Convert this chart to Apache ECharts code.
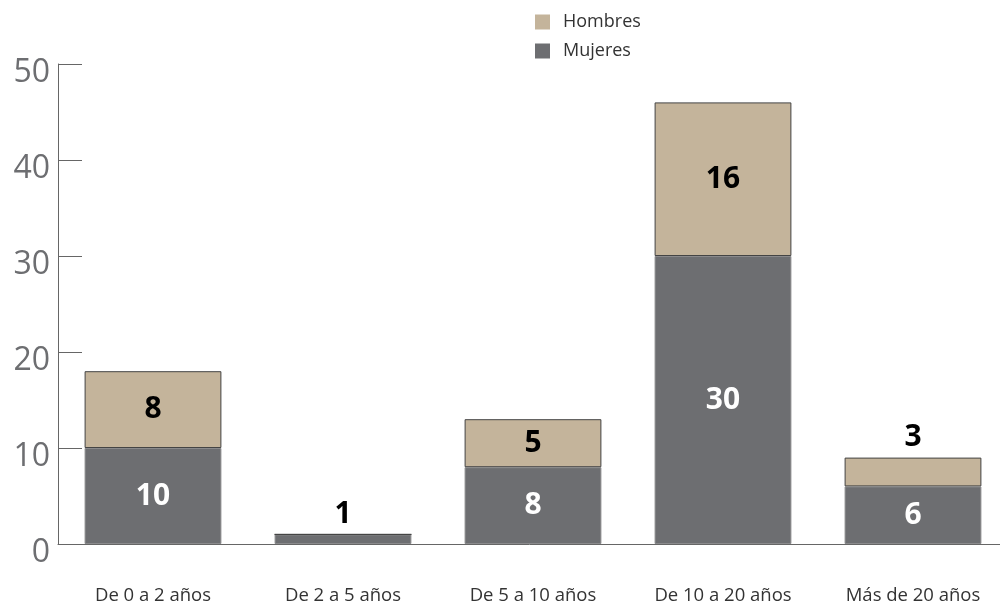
<!DOCTYPE html>
<html>
<head>
<meta charset="utf-8">
<script src="https://cdn.jsdelivr.net/npm/echarts@6/dist/echarts.min.js"></script>
<style>
html,body{margin:0;padding:0;background:#fff}
#chart{width:1000px;height:607px}
</style>
</head>
<body>
<div id="chart"></div>
<script>
var categories = ['De 0 a 2 años','De 2 a 5 años','De 5 a 10 años','De 10 a 20 años','Más de 20 años']
var mujeres = [10,1,8,30,6]
var hombres = [8,0,5,16,3]
var yTicks = [0,10,20,30,40,50]

var chart = echarts.init(document.getElementById('chart'))

// labels: small segments put the number on top of the bar
var mujeresData = mujeres.map(function(v){
    if(v < 3) return {value:v,label:{position:'top',color:'#000'}}
    return v
})
var hombresData = hombres.map(function(v){
    if(v == 0) return {value:v,label:{show:false}}
    if(v < 4) return {value:v,label:{position:'top',color:'#000'}}
    return v
})

var options = {
    animation:false,
    textStyle:{fontFamily:'Open Sans'},
    legend:{
        orient:'vertical',
        left:530,
        top:8,
        itemWidth:15,
        itemHeight:15,
        itemGap:11,
        icon:'rect',
        itemStyle:{borderWidth:0},
        data:['Hombres','Mujeres'],
        textStyle:{fontSize:18,color:'#333',fontFamily:'Open Sans',padding:[0,0,0,8]}
    },
    grid:{left:58,top:64,width:950,height:480,containLabel:false,outerBoundsMode:'none'},
    xAxis:{
        type:'category',
        data:categories,
        axisLine:{lineStyle:{color:'#666',width:1}},
        axisTick:{inside:true,length:12,lineStyle:{color:'#666'}},
        axisLabel:{fontSize:18.5,color:'#333',margin:42,fontFamily:'Open Sans'}
    },
    yAxis:{
        type:'value',
        min:yTicks[0],
        max:yTicks[yTicks.length-1],
        interval:10,
        splitLine:{show:false},
        axisLine:{show:true,lineStyle:{color:'#666',width:1}},
        axisTick:{show:true,inside:true,length:24,lineStyle:{color:'#666'}},
        axisLabel:{fontSize:32,color:'#6d6e71',margin:8,verticalAlign:'top',lineHeight:18,fontFamily:'Open Sans'}
    },
    series:[
        {
            name:'Mujeres',
            type:'bar',
            stack:'total',
            barWidth:'72%',
            data:mujeresData,
            itemStyle:{color:'#6d6e71',borderColor:'#8a8a8c',borderWidth:1},
            label:{show:true,position:'inside',color:'#fff',fontSize:30,fontWeight:'bold',fontFamily:'Open Sans'}
        },
        {
            name:'Hombres',
            type:'bar',
            stack:'total',
            data:hombresData,
            itemStyle:{color:'#c4b49b',borderColor:'#444',borderWidth:1},
            label:{show:true,position:'inside',color:'#000',fontSize:30,fontWeight:'bold',fontFamily:'Open Sans'}
        }
    ]
}
chart.setOption(options)
</script>
</body>
</html>
